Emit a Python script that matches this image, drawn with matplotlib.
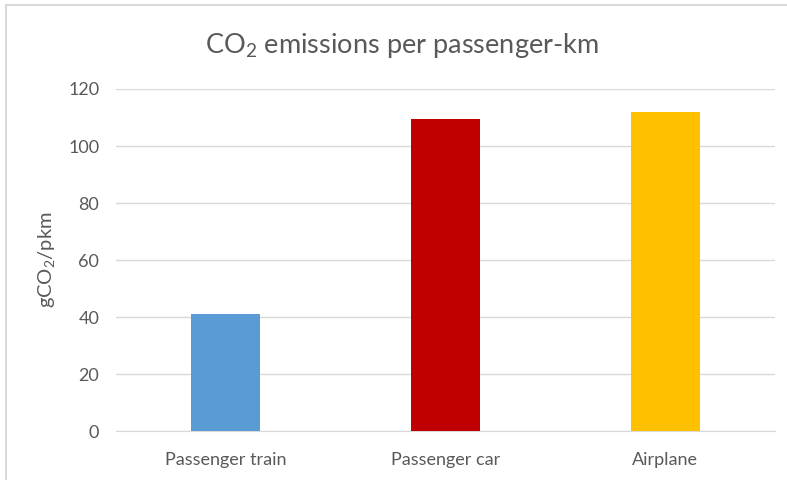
import matplotlib
matplotlib.use('Agg')
import matplotlib.pyplot as plt
from matplotlib.patches import Rectangle

# Data
categories = ['Passenger train', 'Passenger car', 'Airplane']
emissions = [41, 109.5, 112]
bar_colors = ['#5B9BD5', '#C00000', '#FFC000']
yticks = [0, 20, 40, 60, 80, 100, 120]

plt.rcParams['font.family'] = ['Lato', 'DejaVu Sans']
plt.rcParams['mathtext.fontset'] = 'custom'
plt.rcParams['mathtext.rm'] = 'Lato'
plt.rcParams['mathtext.it'] = 'Lato'

text_color = '#595959'
grid_color = '#D9D9D9'

fig = plt.figure(figsize=(7.87, 4.8), dpi=100)
ax = fig.add_axes([0.1474, 0.1015, 0.8374, 0.7131])

# light frame around the chart
fig.patches.append(Rectangle((6 / 787, -0.1), 1.2, (480 - 5) / 480 + 0.1,
                             transform=fig.transFigure, fill=False,
                             edgecolor='#D9D9D9', linewidth=1.5))

x = range(len(categories))
ax.bar(x, emissions, width=0.315, color=bar_colors, zorder=3)

ax.set_xlim(-0.5, 2.5)
ax.set_ylim(0, 120)
ax.set_yticks(yticks)
ax.set_xticks(list(x))
ax.set_xticklabels(categories)
ax.yaxis.grid(True, color=grid_color, linewidth=1, zorder=0)
ax.tick_params(axis='both', length=0, labelsize=13, colors=text_color)
ax.tick_params(axis='y', pad=12)
ax.tick_params(axis='x', pad=15)
for side in ['top', 'right', 'left']:
    ax.spines[side].set_visible(False)
ax.spines['bottom'].set_color(grid_color)

ax.set_ylabel(r'gCO$_2$/pkm', fontsize=14.5, color=text_color, labelpad=8)
fig.text(0.511, 0.906, r'CO$_2$ emissions per passenger-km', ha='center',
         va='center', fontsize=19.5, color=text_color)

plt.savefig('out.png', dpi=100)
